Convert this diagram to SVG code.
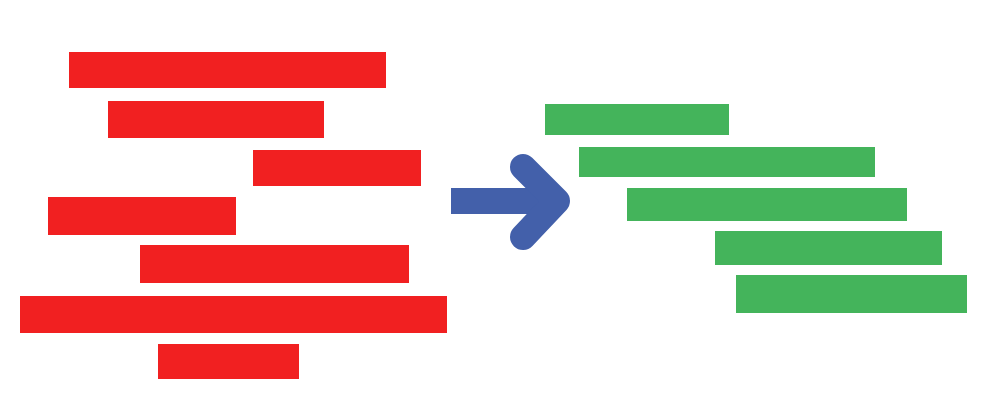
<svg xmlns="http://www.w3.org/2000/svg" width="1000" height="420" viewBox="0 0 1000 420">
  <style>
    .red { fill: #F12021; }
    .green { fill: #44B45B; }
    .arrow { fill: none; stroke: #4360AA; stroke-width: 26; stroke-linecap: round; stroke-linejoin: round; }
  </style>
  <rect width="1000" height="420" fill="#FFFFFF"/>
  <g id="before">
    <g id="red-1"><rect class="red" x="69" y="52" width="317" height="36"/></g>
    <g id="red-2"><rect class="red" x="108" y="101" width="216" height="37"/></g>
    <g id="red-3"><rect class="red" x="253" y="150" width="168" height="36"/></g>
    <g id="red-4"><rect class="red" x="48" y="197" width="188" height="38"/></g>
    <g id="red-5"><rect class="red" x="140" y="245" width="269" height="38"/></g>
    <g id="red-6"><rect class="red" x="20" y="296" width="427" height="37"/></g>
    <g id="red-7"><rect class="red" x="158" y="344" width="141" height="35"/></g>
  </g>
  <g id="connectors">
    <rect x="451" y="188" width="106" height="26" fill="#4360AA"/>
    <path class="arrow" d="M523,167 L557,201 L523,237"/>
  </g>
  <g id="after">
    <g id="green-1"><rect class="green" x="545" y="104" width="184" height="31"/></g>
    <g id="green-2"><rect class="green" x="579" y="147" width="296" height="30"/></g>
    <g id="green-3"><rect class="green" x="627" y="188" width="280" height="33"/></g>
    <g id="green-4"><rect class="green" x="715" y="231" width="227" height="34"/></g>
    <g id="green-5"><rect class="green" x="736" y="275" width="231" height="38"/></g>
  </g>
</svg>
